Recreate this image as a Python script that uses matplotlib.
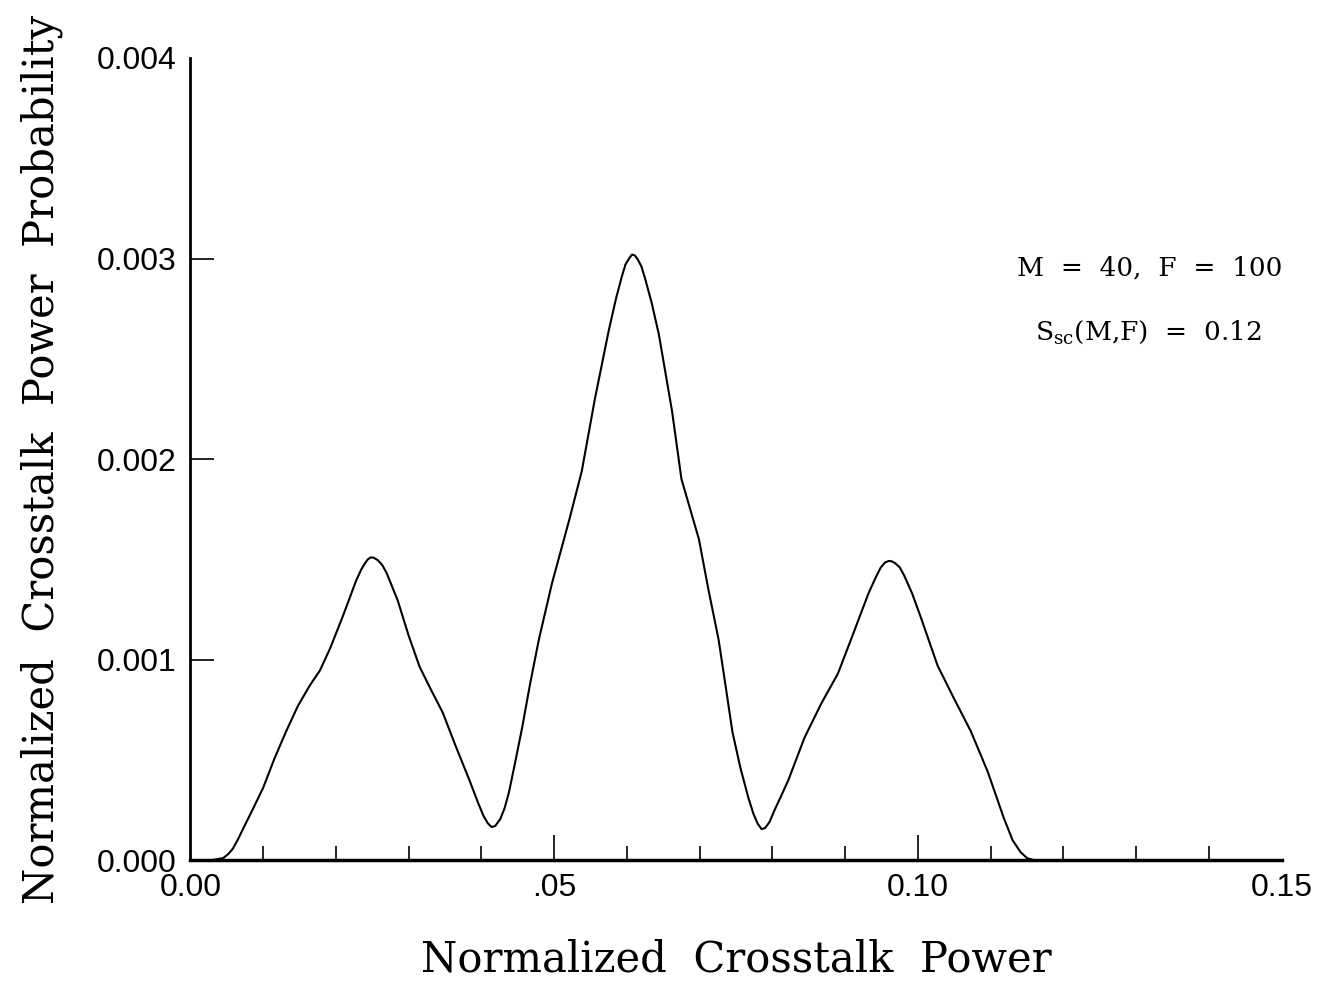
import matplotlib.pyplot as plt
from matplotlib.ticker import MultipleLocator

# values
power = [0.000, 0.0030, 0.0045, 0.0052, 0.0058, 0.0065, 0.0073, 0.0086, 0.0100, 0.0116,
         0.0132, 0.0148, 0.0164, 0.0178, 0.0192, 0.0210, 0.0228, 0.0235, 0.0240, 0.0244,
         0.0248, 0.0252, 0.0258, 0.0264, 0.0270, 0.0285, 0.0300, 0.0315, 0.0330, 0.0347,
         0.0364, 0.0384, 0.0395, 0.0403, 0.0409, 0.0414, 0.0419, 0.0426, 0.0432, 0.0438,
         0.0446, 0.0456, 0.0467, 0.0479, 0.0497, 0.0509, 0.0521, 0.0538, 0.0556, 0.0575,
         0.0585, 0.0593, 0.0598, 0.0603, 0.0607, 0.0611, 0.0615, 0.0620, 0.0625, 0.0634,
         0.0644, 0.0662, 0.0675, 0.0687, 0.0699, 0.0712, 0.0726, 0.0736, 0.0745, 0.0756,
         0.0767, 0.0774, 0.0780, 0.0785, 0.0790, 0.0796, 0.0803, 0.0812, 0.0822, 0.0844,
         0.0867, 0.0890, 0.0908, 0.0932, 0.0942, 0.0949, 0.0955, 0.0960, 0.0964, 0.0969,
         0.0975, 0.0981, 0.0992, 0.1004, 0.1027, 0.1049, 0.1073, 0.1096, 0.1118, 0.1130,
         0.1141, 0.1150, 0.1159, 0.1500]
prob = [0.0, 0.0, 0.00001, 0.00003, 0.000055, 0.0001, 0.00016, 0.000255, 0.00036, 0.00051,
        0.000645, 0.00077, 0.00087, 0.000945, 0.001055, 0.00122, 0.001395, 0.00145, 0.00148, 0.0015,
        0.00151, 0.001508, 0.001495, 0.00147, 0.00143, 0.001295, 0.00112, 0.000965, 0.000855, 0.000735,
        0.000575, 0.000395, 0.00029, 0.00022, 0.000183, 0.000165, 0.00017, 0.000205, 0.00026, 0.00034,
        0.00048, 0.00066, 0.00088, 0.0011, 0.00138, 0.00154, 0.0017, 0.00194, 0.0023, 0.00264,
        0.0028, 0.00291, 0.00297, 0.003, 0.00302, 0.003015, 0.002995, 0.00296, 0.0029, 0.00278,
        0.00262, 0.00224, 0.0019, 0.00175, 0.0016, 0.00135, 0.0011, 0.00086, 0.00064, 0.00046,
        0.00031, 0.00023, 0.00018, 0.000155, 0.00016, 0.00019, 0.00025, 0.00032, 0.0004, 0.00061,
        0.00078, 0.00093, 0.0011, 0.00133, 0.00141, 0.00146, 0.001485, 0.001492, 0.00149, 0.00148,
        0.00146, 0.00142, 0.00133, 0.00121, 0.00097, 0.00081, 0.00064, 0.00044, 0.00021, 0.0001,
        0.00004, 0.00001, 0.0, 0.0]

x_ticks = [0.0, 0.05, 0.10, 0.15]
x_tick_labels = ['0.00', '.05', '0.10', '0.15']
y_ticks = [0.000, 0.001, 0.002, 0.003, 0.004]
y_tick_labels = ['0.000', '0.001', '0.002', '0.003', '0.004']

plt.rcParams['mathtext.fontset'] = 'dejavuserif'

fig = plt.figure(figsize=(13.31, 9.83), dpi=100)
ax = fig.add_axes([0.143, 0.125, 0.82, 0.816])

ax.plot(power, prob, color='black', linewidth=1.5, solid_joinstyle='round')

ax.set_xlim(0, 0.15)
ax.set_ylim(0, 0.004)
ax.set_xticks(x_ticks)
ax.set_xticklabels(x_tick_labels, fontfamily='Liberation Sans', fontsize=23)
ax.xaxis.set_minor_locator(MultipleLocator(0.01))
ax.set_yticks(y_ticks)
ax.set_yticklabels(y_tick_labels, fontfamily='Liberation Sans', fontsize=23)

ax.tick_params(axis='x', which='major', direction='in', length=18, width=1.2, pad=9)
ax.tick_params(axis='x', which='minor', direction='in', length=10, width=1.2)
ax.tick_params(axis='y', which='major', direction='in', length=17, width=1.2, pad=10)

# the axis lines end without ticks at both ends
for t in (ax.xaxis.get_major_ticks()[0], ax.xaxis.get_major_ticks()[-1],
          ax.yaxis.get_major_ticks()[0], ax.yaxis.get_major_ticks()[-1]):
    t.tick1line.set_visible(False)

ax.spines['top'].set_visible(False)
ax.spines['right'].set_visible(False)
ax.spines['left'].set_linewidth(2)
ax.spines['bottom'].set_linewidth(2.5)

ax.set_xlabel('Normalized  Crosstalk  Power', fontfamily='DejaVu Serif', fontsize=30, labelpad=26)
ax.set_ylabel('Normalized  Crosstalk  Power  Probability', fontfamily='DejaVu Serif',
              fontsize=30, labelpad=24)

ax.text(0.1318, 0.002955, 'M  =  40,  F  =  100', fontfamily='DejaVu Serif', fontsize=19,
        ha='center', va='center')
ax.text(0.1317, 0.00263, r'S$_{\rm sc}$(M,F)  =  0.12', fontfamily='DejaVu Serif', fontsize=19,
        ha='center', va='center')

plt.savefig('out.png', dpi=100, facecolor='white')
